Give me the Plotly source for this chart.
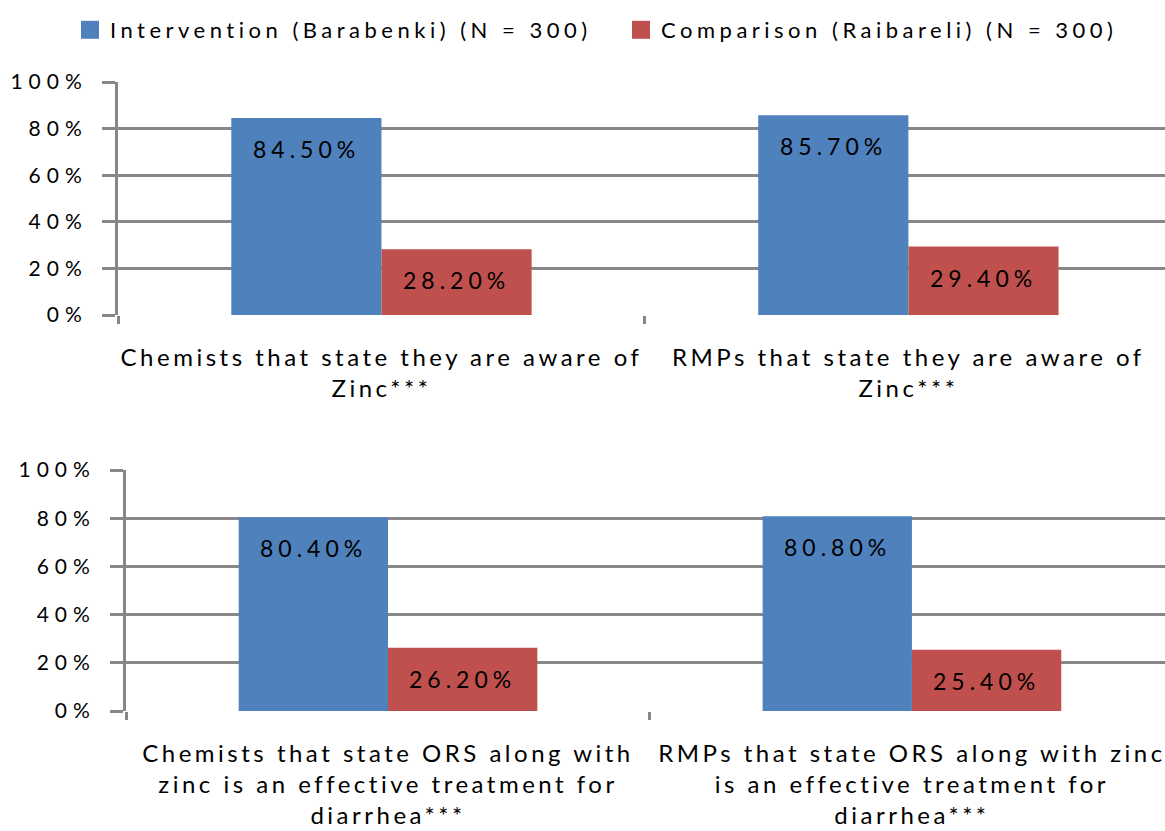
import plotly.graph_objects as go

series_names = ["Intervention (Barabenki) (N = 300)", "Comparison (Raibareli) (N = 300)"]
colors = ["#4F81BD", "#C0504D"]

top_categories = ["Chemists that state they are aware of<br>Zinc***",
                  "RMPs that state they are aware of<br>Zinc***"]
top_intervention = [84.5, 85.7]
top_comparison = [28.2, 29.4]

bottom_categories = ["Chemists that state ORS along with<br>zinc is an effective treatment for<br>diarrhea***",
                     "RMPs that state ORS along with zinc<br>is an effective treatment for<br>diarrhea***"]
bottom_intervention = [80.4, 80.8]
bottom_comparison = [26.2, 25.4]

y_ticks = [0, 20, 40, 60, 80, 100]
y_ticktext = ["0%", "20%", "40%", "60%", "80%", "100%"]

FONT = "Lato"
GRID = "#878787"
BARGAP = 0.43

fig = go.Figure()

panels = [
    ("x", "y", top_categories, [top_intervention, top_comparison]),
    ("x2", "y2", bottom_categories, [bottom_intervention, bottom_comparison]),
]

bar_w = (1 - BARGAP) / 2
for p, (xa, ya, cats, vals) in enumerate(panels):
    for i, (name, v) in enumerate(zip(series_names, vals)):
        fig.add_trace(go.Bar(
            x=cats, y=v, name=name, marker=dict(color=colors[i], line=dict(width=0)),
            xaxis=xa, yaxis=ya, showlegend=(p == 0), offsetgroup=str(i),
            legend="legend" if i == 0 else "legend2",
            hoverinfo="skip",
        ))
        for k, val in enumerate(v):
            fig.add_annotation(
                x=k + (i - 0.5) * bar_w, y=val, xref=xa, yref=ya, text=f"{val:.2f}%",
                showarrow=False, yshift=-31, yanchor="middle", xanchor="center",
                font=dict(family=FONT, size=23, color="#000000"),
            )

axis_common = dict(showgrid=False, zeroline=False, showline=False,
                   tickson="boundaries", ticks="outside", ticklen=8, tickwidth=3,
                   tickcolor=GRID, tickfont=dict(family=FONT, size=24, color="#000000"),
                   type="category", fixedrange=True, automargin=False,
                   ticklabelstandoff=26)

yaxis_common = dict(range=[0, 100], tickvals=y_ticks, ticktext=y_ticktext,
                    showgrid=True, gridcolor=GRID, gridwidth=3,
                    showline=True, linecolor=GRID, linewidth=3,
                    zeroline=False, ticks="outside", ticklen=13, tickwidth=3, tickcolor=GRID,
                    tickfont=dict(family=FONT, size=21, color="#000000"),
                    ticklabelstandoff=10, fixedrange=True, automargin=False)

legend_common = dict(orientation="h", xanchor="left", yanchor="middle",
                     font=dict(family=FONT, size=22, color="#000000"), itemclick=False,
                     itemdoubleclick=False, bgcolor="rgba(0,0,0,0)")

fig.update_layout(
    width=1165, height=831,
    margin=dict(l=0, r=0, t=0, b=0, autoexpand=False),
    paper_bgcolor="white", plot_bgcolor="white",
    barmode="group", bargap=BARGAP, bargroupgap=0,
    font=dict(family=FONT, size=22, color="#000000"),
    xaxis=dict(domain=[0.1013, 1], range=[-0.5, 1.487], anchor="y", **axis_common),
    yaxis=dict(domain=[1 - 315 / 831, 1 - 82 / 831], anchor="x", **yaxis_common),
    xaxis2=dict(domain=[0.1082, 1], range=[-0.5, 1.483], anchor="y2", **axis_common),
    yaxis2=dict(domain=[1 - 711 / 831, 1 - 470 / 831], anchor="x2", **yaxis_common),
    legend=dict(x=70 / 1165, y=1 - 30 / 831, **legend_common),
    legend2=dict(x=621 / 1165, y=1 - 30 / 831, **legend_common),
    showlegend=True,
)

post_js = """
var css = 'body{margin:0 !important;}' +
  '.xtick text, .x2tick text{letter-spacing:3.5px;}' +
  '.ytick text, .y2tick text{letter-spacing:6px;}' +
  'text.annotation-text{letter-spacing:5px;}' +
  'g.legend text, g.legend2 text, text.legendtext, text.legend2text{letter-spacing:4.5px;}' +
  'g.legend g, g.legend2 g{clip-path:none !important;}';
var st = document.createElement('style');
st.textContent = css;
document.head.appendChild(st);
var gd = document.getElementById('{plot_id}');
function sym(){
  gd.querySelectorAll('g.legend path, g.legend2 path').forEach(function(e){
    if ((e.getAttribute('class') || '').indexOf('bg') === -1 && (e.getAttribute('d') || '').indexOf('M6,6') === 0) {
      e.setAttribute('d','M9,9H-9V-9H9Z');
    }
  });
  gd.querySelectorAll('.legendpoints path').forEach(function(e){e.setAttribute('d','M9,9H-9V-9H9Z');});
  gd.querySelectorAll('g.legend text, g.legend2 text').forEach(function(e){e.style.letterSpacing='4.5px';});
}
sym();
gd.on('plotly_afterplot', sym);
"""

fig.write_html("out.html", post_script=post_js, config={"displayModeBar": False, "staticPlot": True})
